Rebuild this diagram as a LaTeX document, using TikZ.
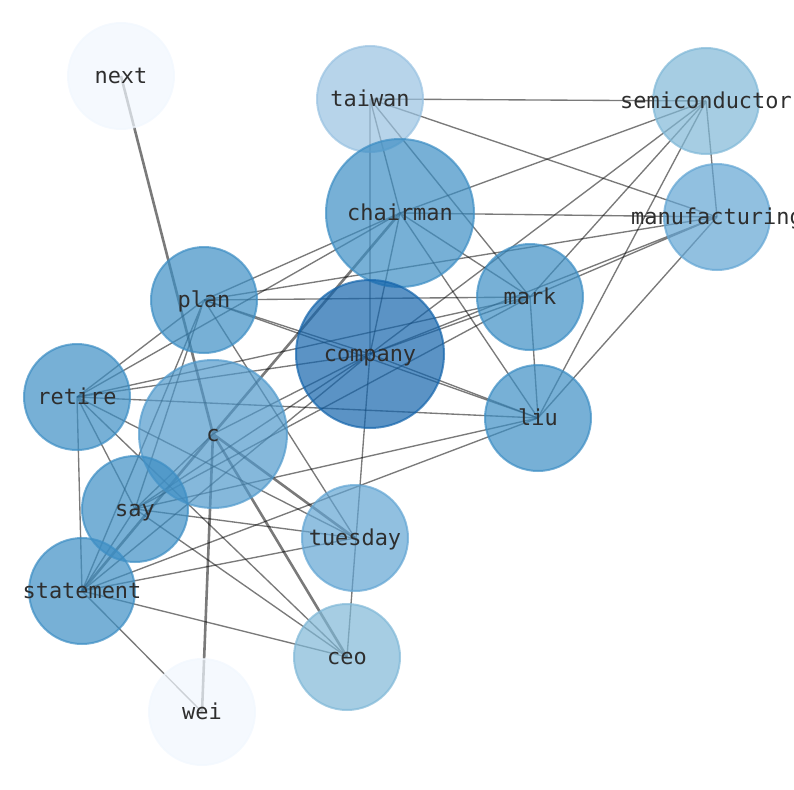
\documentclass[tikz,border=0pt]{standalone}
\usepackage{fontspec}
\newfontfamily\wordfont{DejaVu Sans Mono}
\usepackage{tikz}
\usetikzlibrary{backgrounds}
\definecolor{blueA}{RGB}{241,247,254}
\definecolor{blueB}{RGB}{153,194,225}
\definecolor{blueC}{RGB}{128,184,215}
\definecolor{blueD}{RGB}{98,165,211}
\definecolor{blueE}{RGB}{81,154,204}
\definecolor{blueF}{RGB}{61,142,196}
\definecolor{blueG}{RGB}{21,101,172}
\begin{document}
\begin{tikzpicture}[x=1bp, y=-1bp,
                word/.style={
                  circle, draw=#1, fill=#1, fill opacity=0.7, draw opacity=0.7,
                  line width=2bp, minimum size=106bp, inner sep=0pt,
                  text=black!82, text opacity=1,
                  font=\wordfont\fontsize{22}{24}\selectfont,
                  text height=17bp, text depth=2bp,
                  execute at begin node={\hbox to 0pt\bgroup\hss}, % label may stick out of the circle
                  execute at end node={\hss\egroup}
                },
                word/.default=blueF,
                bigword/.style={word=#1, minimum size=148bp},
                link/.style={black, draw opacity=0.52, line width=1.35bp},
                heavylink/.style={link, line width=2.6bp}
                ]
  \useasboundingbox (0,0) rectangle (794,790);
  \node [word=blueA] (next) at (121,76) {next};
  \node [word=blueB] (taiwan) at (370,99) {taiwan};
  \node [word=blueC] (semi) at (706,101) {semiconductor};
  \node [bigword=blueF] (chairman) at (400,213) {chairman};
  \node [word=blueD] (manuf) at (717,217) {manufacturing};
  \node [word] (plan) at (204,300) {plan};
  \node [word] (mark) at (530,297) {mark};
  \node [bigword=blueG] (company) at (370,354) {company};
  \node [word] (retire) at (77,397) {retire};
  \node [bigword=blueE] (c) at (213,434) {c};
  \node [word] (liu) at (538,418) {liu};
  \node [word] (say) at (135,509) {say};
  \node [word=blueD] (tuesday) at (355,538) {tuesday};
  \node [word] (statement) at (82,591) {statement};
  \node [word=blueC] (ceo) at (347,657) {ceo};
  \node [word=blueA] (wei) at (202,712) {wei};
  \begin{scope}[on background layer]
    \draw [heavylink] (next.center) -- (c.center) (wei.center) -- (c.center)
                      (chairman.center) -- (c.center) (c.center) -- (ceo.center)
                      (c.center) -- (tuesday.center) (c.center) -- (statement.center);
    \draw [link] (wei.center) -- (statement.center);
    \draw [link] (taiwan.center) -- (semi.center) (taiwan.center) -- (manuf.center)
                 (taiwan.center) -- (chairman.center) (taiwan.center) -- (company.center)
                 (taiwan.center) -- (mark.center);
    \draw [link] (semi.center) -- (manuf.center) (semi.center) -- (chairman.center)
                 (semi.center) -- (company.center) (semi.center) -- (mark.center)
                 (semi.center) -- (liu.center);
    \draw [link] (manuf.center) -- (chairman.center) (manuf.center) -- (plan.center)
                 (manuf.center) -- (mark.center) (manuf.center) -- (company.center)
                 (manuf.center) -- (liu.center);
    \draw [link] (chairman.center) -- (mark.center) (chairman.center) -- (liu.center)
                 (chairman.center) -- (company.center) (chairman.center) -- (plan.center)
                 (chairman.center) -- (retire.center);
    \draw [link] (mark.center) -- (plan.center) (mark.center) -- (liu.center)
                 (mark.center) -- (retire.center) (mark.center) -- (company.center)
                 (mark.center) -- (say.center);
    \draw [link] (company.center) -- (liu.center) (company.center) -- (plan.center)
                 (company.center) -- (retire.center) (company.center) -- (c.center)
                 (company.center) -- (say.center) (company.center) -- (statement.center)
                 (company.center) -- (ceo.center);
    \draw [link] (plan.center) -- (liu.center) (plan.center) -- (tuesday.center)
                 (plan.center) -- (say.center) (plan.center) -- (statement.center)
                 (plan.center) -- (retire.center);
    \draw [link] (retire.center) -- (liu.center) (retire.center) -- (statement.center)
                 (retire.center) -- (say.center) (retire.center) -- (tuesday.center)
                 (retire.center) -- (ceo.center);
    \draw [link] (c.center) -- (say.center) (say.center) -- (statement.center)
                 (say.center) -- (tuesday.center) (say.center) -- (liu.center)
                 (say.center) -- (ceo.center);
    \draw [link] (statement.center) -- (tuesday.center) (statement.center) -- (liu.center)
                 (statement.center) -- (ceo.center);
  \end{scope}
\end{tikzpicture}
\end{document}
